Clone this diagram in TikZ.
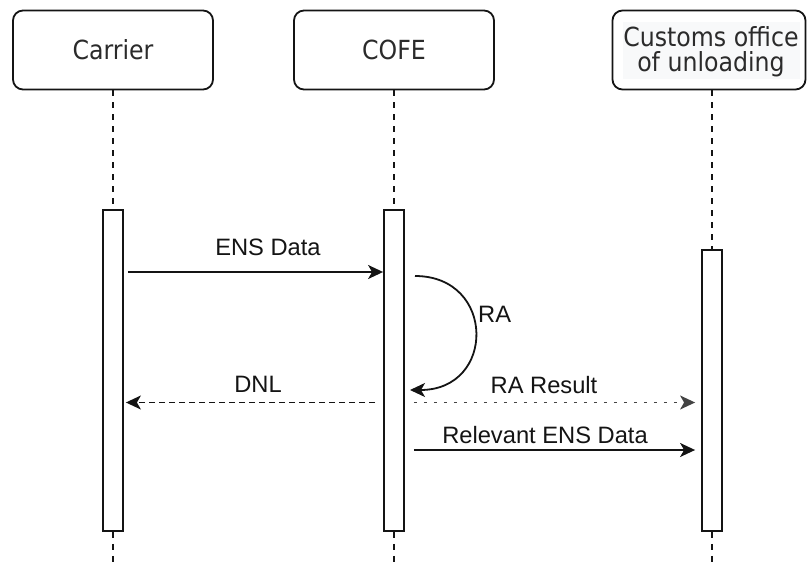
\documentclass[tikz,border=0pt]{standalone}
\usepackage{fontspec}
\setmainfont{Liberation Sans}
\newfontfamily\headfont{DejaVu Sans Condensed}
\usetikzlibrary{arrows.meta}
\definecolor{ink}{HTML}{141414}
\definecolor{headtext}{HTML}{2B2B2B}
\definecolor{textbg}{HTML}{F8F9FA}
\tikzset{
  head/.style={draw=ink, line width=1.8pt, rounded corners=10pt, fill=white,
    minimum width=200pt, minimum height=79pt, inner sep=0pt,
    text=headtext, font=\headfont\fontsize{26.3}{25}\selectfont, align=center},
  bar/.style={draw=ink, line width=1.8pt, fill=white, minimum width=20pt, inner sep=0pt},
  life/.style={draw=ink, line width=1.5pt, dash pattern=on 6pt off 6pt},
  tip/.style={-{Stealth[length=15pt,width=14pt,inset=4pt]}},
  msg/.style={draw=ink, line width=1.8pt, tip},
  reply/.style={draw=ink, line width=1.6pt, dash pattern=on 6pt off 4pt, tip},
  dotmsg/.style={draw=ink!80, line width=1.4pt, dash pattern=on 3pt off 7pt, tip},
  lbl/.style={font=\fontsize{23.7}{26}\selectfont, text=ink, anchor=base, inner sep=0pt}
}
\begin{document}
\begin{tikzpicture}[x=1pt, y=-1pt]
\useasboundingbox (0,0) rectangle (807,562);

% participants
\node[head] (car) at (113,50) {Carrier};
\node[head] (cofe) at (394,50) {COFE};
\node[head, minimum width=193pt] (cust) at (709,50) {};
\fill[textbg] (623,22) rectangle (800,79);
\node[font=\headfont\fontsize{26.3}{25}\selectfont, text=headtext, align=center, inner sep=0pt]
  (custtxt) at (711,52) {Customs office\\of unloading};

% activation bars
\node[bar, minimum height=321pt] (cbar) at (113,370.5) {};
\node[bar, minimum height=321pt] (fbar) at (394,370.5) {};
\node[bar, minimum height=281pt] (ubar) at (712,390.5) {};

% lifelines
\coordinate (bottom) at (0,562);
\draw[life] (car.south) -- (cbar.north);
\draw[life] (cbar.south) -- (cbar.south |- bottom);
\draw[life] (cofe.south) -- (fbar.north);
\draw[life] (fbar.south) -- (fbar.south |- bottom);
\draw[life] (ubar.north |- cust.south) -- (ubar.north);
\draw[life] (ubar.south) -- (ubar.south |- bottom);

% message rows
\coordinate (m1) at (0,272);
\coordinate (m2) at (0,402.5);
\coordinate (m3) at (0,450);
\coordinate (ra1) at (415,276);
\coordinate (ra2) at (410,390);

\draw[msg] ([xshift=4pt]cbar.east |- m1) -- (fbar.west |- m1);
\node[lbl] (l1) at (268,255) {ENS Data};

\draw[msg] (ra1) .. controls (496,276) and (496,390) .. (ra2);
\node[lbl, anchor=base west] (l2) at (478,322) {RA};

\draw[reply] ([xshift=-8pt]fbar.west |- m2) -- ([xshift=2pt]cbar.east |- m2);
\node[lbl] (l3) at (258,392) {DNL};

\draw[dotmsg] ([xshift=9pt]fbar.east |- m2) -- ([xshift=-6pt]ubar.west |- m2);
\node[lbl] (l4) at (544,393) {RA Result};

\draw[msg] ([xshift=9pt]fbar.east |- m3) -- ([xshift=-6pt]ubar.west |- m3);
\node[lbl] (l5) at (545,443) {Relevant ENS Data};
\end{tikzpicture}
\end{document}
